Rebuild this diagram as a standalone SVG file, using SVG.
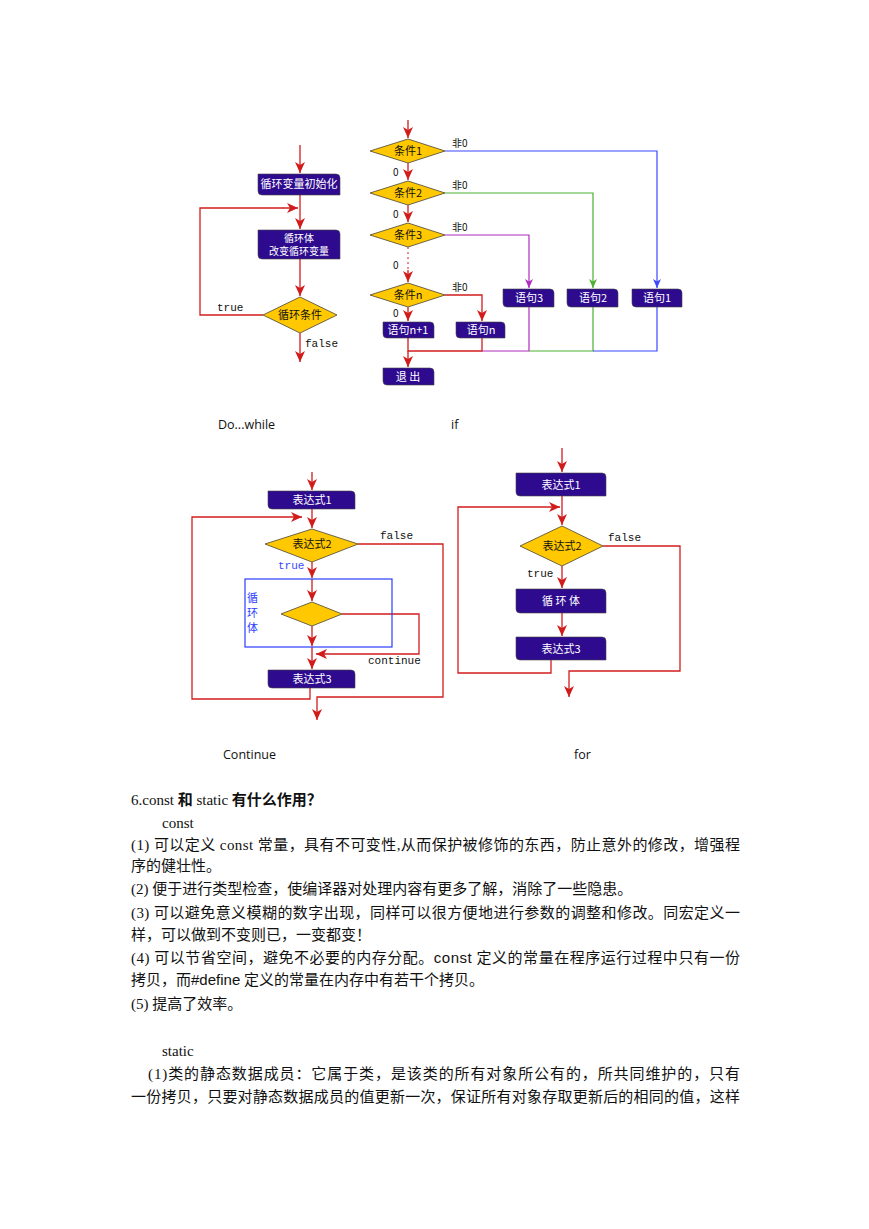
<svg xmlns="http://www.w3.org/2000/svg" width="869" height="1229" viewBox="0 0 869 1229">
<style>
.box{fill:#2e0b8e;stroke:#444;stroke-width:0.6}
.dia{fill:#ffc800;stroke:#6e6440;stroke-width:1}
.bt{fill:#fff;font-family:"Noto Sans CJK SC",sans-serif;font-size:11px;text-anchor:middle}
.dt{fill:#111;font-family:"Noto Sans CJK SC",sans-serif;font-size:11px;text-anchor:middle}
.red{stroke:#d21c1c;stroke-width:1.3;fill:none}
.blu{stroke:#3a48ff;stroke-width:1.2;fill:none}
.grn{stroke:#4cb030;stroke-width:1.2;fill:none}
.pur{stroke:#b02cc0;stroke-width:1.2;fill:none}
.mono{font-family:"Liberation Mono",monospace;font-size:11px;fill:#111}
.sm{font-family:"Noto Sans CJK SC",sans-serif;font-size:10px;fill:#111}
.cap{font-family:"Open Sans","Liberation Sans",sans-serif;font-size:12.5px;fill:#111}
.body{font-family:"Liberation Serif","Noto Sans CJK SC",serif;font-size:15px;fill:#111}
.b{font-weight:bold}
.sans{font-family:"Liberation Sans","Noto Sans CJK SC",sans-serif}
</style>
<defs>
<marker id="ar" markerUnits="userSpaceOnUse" markerWidth="12" markerHeight="10" refX="11" refY="5" orient="auto">
<path d="M0,0 L11,5 L0,10 L3,5 Z" fill="#d21c1c"/>
</marker>
<marker id="ab" markerUnits="userSpaceOnUse" markerWidth="10" markerHeight="8" refX="9" refY="4" orient="auto">
<path d="M0,0 L9,4 L0,8 L2.5,4 Z" fill="#3a48ff"/>
</marker>
<marker id="ag" markerUnits="userSpaceOnUse" markerWidth="10" markerHeight="8" refX="9" refY="4" orient="auto">
<path d="M0,0 L9,4 L0,8 L2.5,4 Z" fill="#4cb030"/>
</marker>
<marker id="ap" markerUnits="userSpaceOnUse" markerWidth="10" markerHeight="8" refX="9" refY="4" orient="auto">
<path d="M0,0 L9,4 L0,8 L2.5,4 Z" fill="#b02cc0"/>
</marker>
</defs>
<rect width="869" height="1229" fill="#fff"/>

<!-- Do...while -->
<g id="connectors-dowhile">
<line class="red" x1="300" y1="145" x2="300" y2="173" marker-end="url(#ar)"/>
<line class="red" x1="300" y1="195" x2="300" y2="229" marker-end="url(#ar)"/>
<line class="red" x1="300" y1="259" x2="300" y2="296" marker-end="url(#ar)"/>
<polyline class="red" points="263,315 200,315 200,208 298,208" marker-end="url(#ar)"/>
<line class="red" x1="300" y1="333" x2="300" y2="362" marker-end="url(#ar)"/>
<text class="mono" x="217" y="311">true</text>
<text class="mono" x="305" y="347">false</text>
</g>
<g id="dw-init"><path class="box" d="M258,174 H336 Q340,174 340,178 V195 H262 Q258,195 258,191 Z"/><text class="bt" x="299" y="188">循环变量初始化</text></g>
<g id="dw-body"><path class="box" d="M258,230 H336 Q340,230 340,234 V259 H262 Q258,259 258,255 Z"/><text class="bt" x="299" y="242" style="font-size:10px">循环体</text><text class="bt" x="299" y="255" style="font-size:10px">改变循环变量</text></g>
<g id="dw-cond"><polygon class="dia" points="263,315 300,297 337,315 300,333"/><text class="dt" x="300" y="319">循环条件</text></g>

<!-- if -->
<g id="connectors-if">
<line class="red" x1="408" y1="120" x2="408" y2="138" marker-end="url(#ar)"/>
<line class="red" x1="408" y1="163" x2="408" y2="180" marker-end="url(#ar)"/>
<line class="red" x1="408" y1="205" x2="408" y2="222" marker-end="url(#ar)"/>
<line x1="408" y1="247" x2="408" y2="270" stroke="#d21c1c" stroke-width="1" stroke-dasharray="2,3"/>
<line class="red" x1="408" y1="270" x2="408" y2="282" marker-end="url(#ar)"/>
<line class="red" x1="408" y1="307" x2="408" y2="321" marker-end="url(#ar)"/>
<polyline class="blu" points="445,151 657,151 657,288" marker-end="url(#ab)"/>
<polyline class="grn" points="445,193 593,193 593,288" marker-end="url(#ag)"/>
<polyline class="pur" points="445,235 529,235 529,288" marker-end="url(#ap)"/>
<polyline class="red" points="445,295 482,295 482,321" marker-end="url(#ar)"/>
<polyline class="red" points="408,338 408,351 482,351 482,338"/>
<polyline class="pur" points="482,351 529,351 529,307"/>
<polyline class="grn" points="529,351 593,351 593,307"/>
<polyline class="blu" points="593,351 657,351 657,307"/>
<line class="red" x1="408" y1="351" x2="408" y2="367" marker-end="url(#ar)"/>
<text class="sm" x="452" y="147">非0</text>
<text class="sm" x="452" y="189">非0</text>
<text class="sm" x="452" y="231">非0</text>
<text class="sm" x="452" y="291">非0</text>
<text class="sm" x="393" y="176">0</text>
<text class="sm" x="393" y="218">0</text>
<text class="sm" x="393" y="269">0</text>
<text class="sm" x="393" y="317">0</text>
</g>
<g id="if-c1"><polygon class="dia" points="370,151 408,139 445,151 408,163"/><text class="dt" x="408" y="155">条件1</text></g>
<g id="if-c2"><polygon class="dia" points="370,193 408,181 445,193 408,205"/><text class="dt" x="408" y="197">条件2</text></g>
<g id="if-c3"><polygon class="dia" points="370,235 408,223 445,235 408,247"/><text class="dt" x="408" y="239">条件3</text></g>
<g id="if-cn"><polygon class="dia" points="370,295 408,283 445,295 408,307"/><text class="dt" x="408" y="299">条件n</text></g>
<g id="if-sn1"><path class="box" d="M383,322 H430 Q434,322 434,326 V338 H387 Q383,338 383,334 Z"/><text class="bt" x="408" y="334">语句n+1</text></g>
<g id="if-sn"><path class="box" d="M456,322 H501 Q505,322 505,326 V338 H460 Q456,338 456,334 Z"/><text class="bt" x="481" y="334">语句n</text></g>
<g id="if-s3"><path class="box" d="M503,289 H550 Q554,289 554,293 V307 H507 Q503,307 503,303 Z"/><text class="bt" x="529" y="302">语句3</text></g>
<g id="if-s2"><path class="box" d="M567,289 H614 Q618,289 618,293 V307 H571 Q567,307 567,303 Z"/><text class="bt" x="593" y="302">语句2</text></g>
<g id="if-s1"><path class="box" d="M632,289 H678 Q682,289 682,293 V307 H636 Q632,307 632,303 Z"/><text class="bt" x="657" y="302">语句1</text></g>
<g id="if-exit"><path class="box" d="M383,368 H430 Q434,368 434,372 V385 H387 Q383,385 383,381 Z"/><text class="bt" x="408" y="381">退 出</text></g>

<text class="cap" x="218" y="429">Do...while</text>
<text class="cap" x="451" y="429">if</text>

<!-- Continue -->
<g id="connectors-continue">
<line class="red" x1="312" y1="472" x2="312" y2="490" marker-end="url(#ar)"/>
<line class="red" x1="312" y1="509" x2="312" y2="528" marker-end="url(#ar)"/>
<polyline class="red" points="310,688 310,699 192,699 192,517 302,517" marker-end="url(#ar)"/>
<polyline class="red" points="358,544 443,544 443,697 317,697 317,720" marker-end="url(#ar)"/>
<line class="red" x1="312" y1="562" x2="312" y2="578" marker-end="url(#ar)"/>
<line class="red" x1="312" y1="579" x2="312" y2="601" marker-end="url(#ar)"/>
<polyline class="red" points="342,614 419,614 419,654 316,654" marker-end="url(#ar)"/>
<line class="red" x1="312" y1="626" x2="312" y2="646" marker-end="url(#ar)"/>
<line class="red" x1="312" y1="647" x2="312" y2="669" marker-end="url(#ar)"/>
<text class="mono" x="380" y="539">false</text>
<text class="mono" x="278" y="569" style="fill:#3a48ff">true</text>
<text class="mono" x="368" y="664">continue</text>
</g>
<g id="ct-body"><rect x="245" y="579" width="147" height="68" fill="none" stroke="#2a3cff" stroke-width="1.2"/>
<text class="sm" x="247" y="602" style="fill:#2a3cff;font-size:11px">循</text>
<text class="sm" x="247" y="617" style="fill:#2a3cff;font-size:11px">环</text>
<text class="sm" x="247" y="632" style="fill:#2a3cff;font-size:11px">体</text></g>
<g id="ct-e1"><path class="box" d="M268,491 H351 Q355,491 355,495 V509 H272 Q268,509 268,505 Z"/><text class="bt" x="312" y="504">表达式1</text></g>
<g id="ct-e2"><polygon class="dia" points="265,544 312,529 358,544 312,562"/><text class="dt" x="312" y="548">表达式2</text></g>
<g id="ct-d"><polygon class="dia" points="281,614 312,602 342,614 312,626"/></g>
<g id="ct-e3"><path class="box" d="M268,670 H351 Q355,670 355,674 V688 H272 Q268,688 268,684 Z"/><text class="bt" x="312" y="683">表达式3</text></g>

<!-- for -->
<g id="connectors-for">
<line class="red" x1="562" y1="448" x2="562" y2="472" marker-end="url(#ar)"/>
<line class="red" x1="562" y1="496" x2="562" y2="525" marker-end="url(#ar)"/>
<polyline class="red" points="551,660 551,673 458,673 458,507 560,507" marker-end="url(#ar)"/>
<polyline class="red" points="603,546 680,546 680,671 569,671 569,697" marker-end="url(#ar)"/>
<line class="red" x1="562" y1="566" x2="562" y2="588" marker-end="url(#ar)"/>
<line class="red" x1="562" y1="613" x2="562" y2="636" marker-end="url(#ar)"/>
<text class="mono" x="608" y="541">false</text>
<text class="mono" x="527" y="577">true</text>
</g>
<g id="for-e1"><path class="box" d="M516,473 H602 Q606,473 606,477 V496 H520 Q516,496 516,492 Z"/><text class="bt" x="561" y="489">表达式1</text></g>
<g id="for-e2"><polygon class="dia" points="520,546 562,526 603,546 562,566"/><text class="dt" x="562" y="550">表达式2</text></g>
<g id="for-body"><path class="box" d="M516,589 H602 Q606,589 606,593 V613 H520 Q516,613 516,609 Z"/><text class="bt" x="561" y="605">循 环 体</text></g>
<g id="for-e3"><path class="box" d="M516,637 H602 Q606,637 606,641 V660 H520 Q516,660 516,656 Z"/><text class="bt" x="561" y="653">表达式3</text></g>

<text class="cap" x="223" y="759">Continue</text>
<text class="cap" x="574" y="759">for</text>

<!-- body text -->
<text class="body" x="131" y="805">6.const <tspan class="b">和</tspan> static <tspan class="b">有什么作用？</tspan></text>
<text class="body" x="162" y="828">const</text>
<text class="body" x="131" y="850" textLength="609" lengthAdjust="spacing">(1) 可以定义 const 常量，具有不可变性,从而保护被修饰的东西，防止意外的修改，增强程</text>
<text class="body" x="131" y="871">序的健壮性。</text>
<text class="body" x="131" y="894">(2) 便于进行类型检查，使编译器对处理内容有更多了解，消除了一些隐患。</text>
<text class="body" x="131" y="918" textLength="609" lengthAdjust="spacing">(3) 可以避免意义模糊的数字出现，同样可以很方便地进行参数的调整和修改。同宏定义一</text>
<text class="body" x="131" y="940">样，可以做到不变则已，一变都变！</text>
<text class="body" x="131" y="963" textLength="609" lengthAdjust="spacing">(4) 可以节省空间，避免不必要的内存分配。<tspan class="sans">const</tspan> 定义的常量在程序运行过程中只有一份</text>
<text class="body" x="131" y="985">拷贝，而<tspan class="sans">#define</tspan> 定义的常量在内存中有若干个拷贝。</text>
<text class="body" x="131" y="1009">(5) 提高了效率。</text>
<text class="body" x="162" y="1056">static</text>
<text class="body" x="148" y="1079" textLength="592" lengthAdjust="spacing">(1)类的静态数据成员：它属于类，是该类的所有对象所公有的，所共同维护的，只有</text>
<text class="body" x="131" y="1102" textLength="609" lengthAdjust="spacing">一份拷贝，只要对静态数据成员的值更新一次，保证所有对象存取更新后的相同的值，这样</text>
</svg>
